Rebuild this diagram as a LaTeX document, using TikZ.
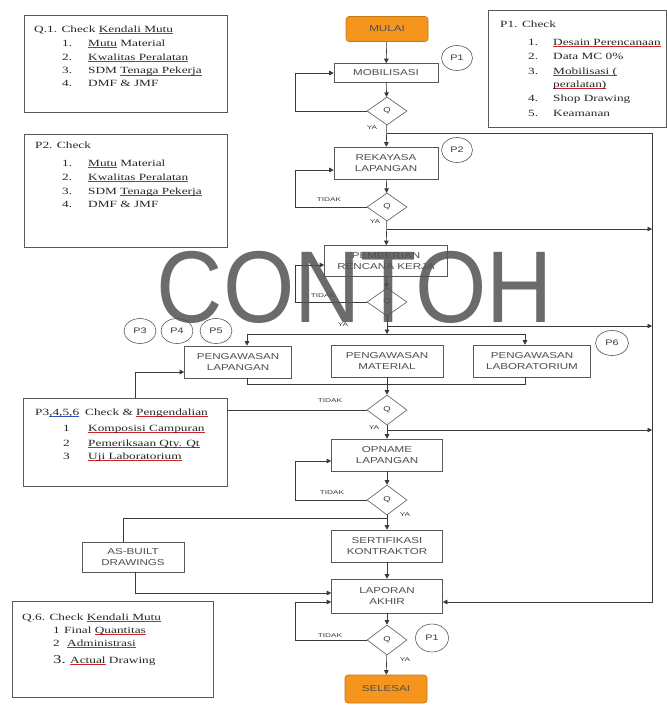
\documentclass[tikz,border=0pt]{standalone}
\usepackage{fontspec}
\usetikzlibrary{shapes.geometric,arrows.meta,calc}
\newfontfamily\serifw[FakeStretch=1.4]{Liberation Serif}
\newfontfamily\boxf[FakeStretch=1.35]{Liberation Sans}
\newfontfamily\lblf[FakeStretch=1.5]{Liberation Sans}
\newfontfamily\markf[FakeStretch=0.9]{Liberation Sans}
\definecolor{ln}{HTML}{3A3A3A}
\definecolor{orfill}{HTML}{F5951E}
\definecolor{ordraw}{HTML}{C6760F}
\definecolor{spellred}{HTML}{D0202A}
\definecolor{spellblue}{HTML}{3050C0}
% spell-check style underlines
\newsavebox\ulbox
\newcommand\redul[1]{\sbox\ulbox{#1}\rlap{\textcolor{spellred}{\rule[-0.42ex]{\wd\ulbox}{0.45pt}}}\usebox\ulbox}
\newcommand\blueul[1]{\sbox\ulbox{#1}\rlap{\textcolor{spellblue}{\rule[-0.42ex]{\wd\ulbox}{0.45pt}}}\usebox\ulbox}
\tikzset{
  flow/.style={draw=ln!85, line width=0.6pt, rectangle, inner sep=0pt, align=center,
    font=\boxf\fontsize{8.6}{10.5}\selectfont, text=ln!90},
  term/.style={flow, fill=orfill, draw=ordraw, rounded corners=3pt},
  dec/.style={diamond, draw=ln!85, line width=0.6pt, minimum width=40pt, minimum height=28pt,
    inner sep=0pt, font=\boxf\fontsize{7}{8}\selectfont, text=ln},
  pell/.style={ellipse, draw=ln!85, line width=0.6pt, minimum width=31pt, minimum height=25pt,
    inner sep=0pt, font=\boxf\fontsize{8}{9}\selectfont, text=ln},
  note/.style={rectangle, draw=ln!85, line width=0.7pt, inner sep=0pt},
  ntxt/.style={anchor=base west, inner sep=0pt, font=\serifw\fontsize{9.5}{11}\selectfont, text=black!85},
  lbl/.style={inner sep=0pt, font=\lblf\fontsize{5.5}{6}\selectfont, text=ln},
  wire/.style={draw=ln, line width=0.6pt},
  arr/.style={wire, -{Triangle[length=4.5pt,width=4.5pt]}}
}
\begin{document}
\begin{tikzpicture}[x=1pt,y=-1pt]
\useasboundingbox (0,0) rectangle (667,705);
\path[fill=white] (0,0) rectangle (667,705);

% ---- main column ----
\node[term, minimum width=82pt, minimum height=25pt] (mulai) at (387,29) {MULAI};
\node[flow, minimum width=104pt, minimum height=19pt] (mob) at (386,73) {MOBILISASI};
\node[dec] (d1) at (387,111) {Q};
\node[flow, minimum width=104pt, minimum height=32pt] (rek) at (386,163) {REKAYASA\\LAPANGAN};
\node[dec] (d2) at (387,207) {Q};
\node[flow, minimum width=123pt, minimum height=31pt] (pem) at (386,261) {PEMBERIAN\\RENCANA KERJA};
\node[dec] (d3) at (387,302) {Q};
\node[flow, minimum width=107pt, minimum height=32pt] (pl) at (238,362) {PENGAWASAN\\LAPANGAN};
\node[flow, minimum width=112pt, minimum height=32pt] (pm) at (387,361) {PENGAWASAN\\MATERIAL};
\node[flow, minimum width=117pt, minimum height=32pt] (plab) at (532,361) {PENGAWASAN\\LABORATORIUM};
\node[dec, minimum height=30pt] (d4) at (387,410) {Q};
\node[flow, minimum width=111pt, minimum height=32pt] (opn) at (387,455) {OPNAME\\LAPANGAN};
\node[dec, minimum height=30pt] (d5) at (387,500) {Q};
\node[flow, minimum width=111pt, minimum height=32pt] (sert) at (387,546) {SERTIFIKASI\\KONTRAKTOR};
\node[flow, minimum width=111pt, minimum height=34pt] (lap) at (387,596) {LAPORAN\\AKHIR};
\node[dec, minimum height=30pt] (d6) at (387,640) {Q};
\node[term, minimum width=82pt, minimum height=28pt] (sel) at (386,689) {SELESAI};
\node[flow, minimum width=102pt, minimum height=30pt] (asb) at (133,557) {AS-BUILT\\DRAWINGS};

% ---- check markers ----
\node[pell] (pa) at (457,58) {P1};
\node[pell] (pb) at (457,150) {P2};
\node[pell, minimum width=32pt] (pc) at (140,331) {P3};
\node[pell, minimum width=32pt] (pd) at (177,331) {P4};
\node[pell, minimum width=32pt] (pe) at (216,331) {P5};
\node[pell, minimum width=33pt] (pf) at (612,343) {P6};
\node[pell, minimum width=33pt, minimum height=28pt] (pg) at (432,638) {P1};

% ---- helper coordinates ----
\coordinate (lx) at (295,0);
\coordinate (rt) at (652,133);
\coordinate (b1) at (652,229);
\coordinate (b2) at (652,326);
\coordinate (b3) at (652,430);
\coordinate (dist) at (387,334);
\coordinate (dl) at (247,334);
\coordinate (dr) at (525,334);
\coordinate (cl) at (247,384);
\coordinate (cr) at (525,384);
\coordinate (ck) at (135,372);
\coordinate (ab) at (123,518);
\coordinate (ad) at (135,593);
\coordinate (lapin) at ($(lap.east)+(0,6)$);

% ---- connectors ----
\draw[arr] (mulai) -- (mob);
\draw[arr] (mob) -- (d1);
\draw[arr] (d1.west) -- (d1.west -| lx) |- (mob.west);
\draw[arr] (d1) -- (rek);
\draw[arr] (d1.south |- rt) -- (rt) -- (rt |- lapin) -- (lapin);
\draw[arr] (rek) -- (d2);
\draw[arr] (d2.west) -- (d2.west -| lx) |- ($(rek.west)+(0,7)$);
\draw[arr] (d2) -- (pem);
\draw[arr] (d2.south |- b1) -- (b1);
\draw[arr] (pem) -- (d3);
\draw[arr] (d3.west) -- (d3.west -| lx) |- ($(pem.west)+(0,4)$);
\draw[arr] (d3.south |- b2) -- (b2);
\draw[arr] (d3) -- (dist);
\draw[wire] (dl) -- (dr);
\draw[arr] (dl) -- (dl |- pl.north);
\draw[arr] (dr) -- (dr |- plab.north);
\draw[wire] (cl |- pl.south) -- (cl) -- (cr) -- (cr |- plab.south);
\draw[arr] (pm) -- (d4);
\draw[arr] (d4.south |- b3) -- (b3);
\draw[arr] (d4) -- (opn);
\draw[arr] (opn) -- (d5);
\draw[arr] (d5.west) -- (d5.west -| lx) |- ($(opn.west)+(0,6)$);
\draw[arr] (d5) -- (sert);
\draw[wire] (d5.south |- ab) -- (ab) -- (ab |- asb.north);
\draw[arr] (sert) -- (lap);
\draw[arr] (ad |- asb.south) -- (ad) -- (lap.west |- ad);
\draw[arr] (lap) -- (d6);
\draw[arr] (d6.west) -- (d6.west -| lx) |- ($(lap.west)+(0,6)$);
\draw[arr] (d6) -- (sel);

% ---- branch labels ----
\node[lbl] (ya1) at (372,128) {YA};
\node[lbl] (td2) at (329,200) {TIDAK};
\node[lbl] (ya2) at (375,222) {YA};
\node[lbl] (td3) at (323,296) {TIDAK};
\node[lbl] (ya3) at (343,325) {YA};
\node[lbl] (td4) at (330,401) {TIDAK};
\node[lbl] (ya4) at (374,428) {YA};
\node[lbl] (td5) at (332,493) {TIDAK};
\node[lbl] (ya5) at (405,515) {YA};
\node[lbl] (td6) at (330,636) {TIDAK};
\node[lbl] (ya6) at (405,660) {YA};

% ---- note: Q.1 ----
\node[note, minimum width=203pt, minimum height=97pt] (q1) at (125.5,63.5) {};
\node[ntxt] (q1h) at (34,32) {Q.1. Check \redul{Kendali Mutu}};
\node[ntxt] (q1a) at (62,46) {\makebox[26pt][l]{1.}\redul{Mutu} Material};
\node[ntxt] (q1b) at (62,60) {\makebox[26pt][l]{2.}\redul{Kwalitas Peralatan}};
\node[ntxt] (q1c) at (62,73.5) {\makebox[26pt][l]{3.}SDM \redul{Tenaga Pekerja}};
\node[ntxt] (q1d) at (62,86) {\makebox[26pt][l]{4.}DMF \& JMF};

% ---- note: P1 ----
\node[note, minimum width=178pt, minimum height=117pt] (p1box) at (577,68.5) {};
\node[ntxt] (p1h) at (500,27) {P1. Check};
\node[ntxt] (p1a) at (528,45) {\makebox[25pt][l]{1.}\redul{Desain Perencanaan}};
\node[ntxt] (p1b) at (528,59) {\makebox[25pt][l]{2.}Data MC 0\%};
\node[ntxt] (p1c) at (528,74) {\makebox[25pt][l]{3.}\redul{Mobilisasi (}};
\node[ntxt] (p1c2) at (553,87) {\redul{peralatan)}};
\node[ntxt] (p1d) at (528,101) {\makebox[25pt][l]{4.}Shop Drawing};
\node[ntxt] (p1e) at (528,116) {\makebox[25pt][l]{5.}Keamanan};

% ---- note: P2 ----
\node[note, minimum width=203pt, minimum height=113pt] (p2box) at (125.5,190.5) {};
\node[ntxt] (p2h) at (35,148) {P2. Check};
\node[ntxt] (p2a) at (62,166) {\makebox[26pt][l]{1.}\redul{Mutu} Material};
\node[ntxt] (p2b) at (62,180) {\makebox[26pt][l]{2.}\redul{Kwalitas Peralatan}};
\node[ntxt] (p2c) at (62,194) {\makebox[26pt][l]{3.}SDM \redul{Tenaga Pekerja}};
\node[ntxt] (p2d) at (62,207) {\makebox[26pt][l]{4.}DMF \& JMF};

% ---- note: P3,4,5,6 ----
\node[note, minimum width=204pt, minimum height=88pt] (chk) at (125,442) {};
\node[ntxt] (chkh) at (35,415) {\makebox[50pt][l]{P3\blueul{,4,5,6}}Check \& \redul{Pengendalian}};
\node[ntxt] (chka) at (63,431) {\makebox[25pt][l]{1}\redul{Komposisi Campuran}};
\node[ntxt] (chkb) at (63,446) {\makebox[25pt][l]{2}\redul{Pemeriksaan Qty. Qt}};
\node[ntxt] (chkc) at (63,459) {\makebox[25pt][l]{3}\redul{Uji Laboratorium}};
\draw[wire] (d4.west) -- (chk.east |- d4.west);
\draw[arr] (ck |- chk.north) -- (ck) -- (pl.west |- ck);

% ---- note: Q.6 ----
\node[note, minimum width=201pt, minimum height=96pt] (q6) at (112.5,649) {};
\node[ntxt] (q6h) at (22,620) {Q.6. Check \redul{Kendali Mutu}};
\node[ntxt] (q6a) at (53,633) {\makebox[11pt][l]{1}Final \redul{Quantitas}};
\node[ntxt] (q6b) at (53,646) {\makebox[14pt][l]{2}\redul{Administrasi}};
\node[ntxt] (q6c) at (53,663) {\makebox[17pt][l]{\fontsize{12}{12}\selectfont 3.}\redul{Actual} Drawing};

% ---- watermark ----
\node[anchor=base, inner sep=0pt, text depth=0pt, font=\markf\fontsize{102}{102}\selectfont,
      text=black!68, text opacity=0.85] (wm) at (355,322) {CONTOH};
\end{tikzpicture}
\end{document}
